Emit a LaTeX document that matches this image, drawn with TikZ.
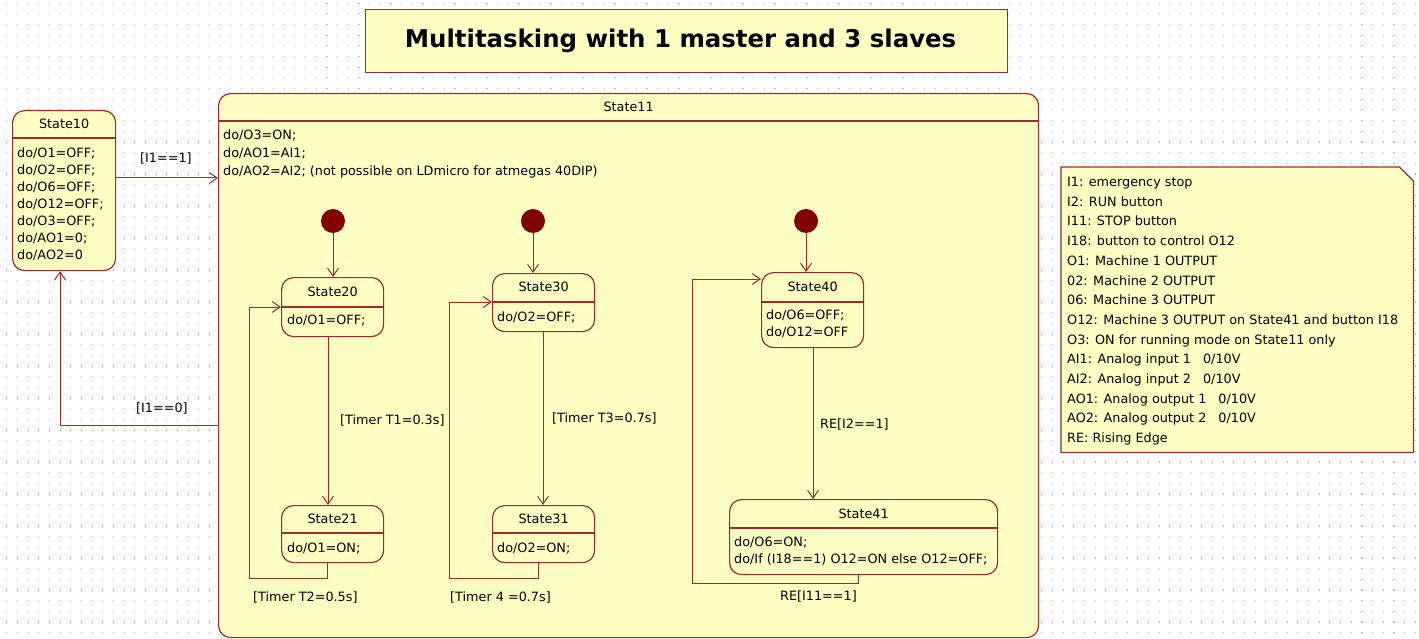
\documentclass[tikz,border=0pt]{standalone}
\usepackage{fontspec}
\setmainfont{DejaVu Sans}
\usetikzlibrary{arrows.meta}
\definecolor{umlline}{RGB}{158,42,42}
\definecolor{umlfill}{RGB}{255,255,196}
\definecolor{umldot}{RGB}{128,0,0}
\begin{document}
\begin{tikzpicture}[x=1pt,y=-1pt,
  font=\fontsize{12.8}{17}\selectfont,
  box/.style={draw=umlline, fill=umlfill, line width=1.2pt, inner sep=0pt},
  state/.style={box, rounded corners=12pt, anchor=north west},
  divider/.style={draw=umlline, line width=1.2pt},
  trans/.style={draw=umlline, line width=1pt, -{Straight Barb[length=8pt,width=11pt]}},
  startdot/.style={circle, fill=umldot, minimum size=24pt, inner sep=0pt},
  body/.style={anchor=north west, align=left, inner sep=0pt},
  guard/.style={anchor=west, inner sep=0pt}]
  \useasboundingbox (0,0) rectangle (1419,639);
  %grid dots
  \foreach \k in {0,...,59}
    \draw[gray!60, line width=1.2pt, dash pattern=on 1.2pt off 9.47pt]
      (6.2,3.2+\k*10.67) -- (1419,3.2+\k*10.67);
  %title
  \node[box, anchor=north west, minimum width=642pt, minimum height=63pt,
        font=\fontsize{24.4}{28}\selectfont\bfseries] (title) at (365,9)
        {\hspace*{-12pt}Multitasking with 1 master and 3 slaves};
  %State10
  \node[state, minimum width=103pt, minimum height=160pt] (s10) at (12,110) {};
  \draw[divider] (s10.west |- 0,138) -- (s10.east |- 0,138);
  \node (s10t) at (s10.north |- 0,124) {State10};
  \node[body] (s10b) at (17,148) {do/O1=OFF;\\do/O2=OFF;\\do/O6=OFF;\\do/O12=OFF;\\
        do/O3=OFF;\\do/AO1=0;\\do/AO2=0};
  %State11
  \node[state, minimum width=820pt, minimum height=544pt] (s11) at (218,93) {};
  \draw[divider] (s11.west |- 0,121) -- (s11.east |- 0,121);
  \node (s11t) at (s11.north |- 0,107) {State11};
  \node[body, font=\fontsize{12.8}{18}\selectfont] (s11b) at (223,130)
        {do/O3=ON;\\do/AO1=AI1;\\do/AO2=AI2; (not possible on LDmicro for atmegas 40DIP)};
  %master transitions
  \draw[trans] (s10.east |- 0,178) -- (s11.west |- 0,178);
  \node[guard] (g10) at (140,158) {[I1==1]};
  \draw[trans] (s11.west |- 0,425) -| ([xshift=-4pt]s10.south);
  \node[guard] (g11) at (136,408) {[I1==0]};
  %slave 1
  \node[startdot] (i20) at (333,221) {};
  \node[state, minimum width=102pt, minimum height=59pt] (s20) at (281,277) {};
  \draw[divider] (s20.west |- 0,307) -- (s20.east |- 0,307);
  \node (s20t) at (s20.north |- 0,292) {State20};
  \node[body] (s20b) at (287,315) {do/O1=OFF;};
  \node[state, minimum width=102pt, minimum height=57pt] (s21) at (281,505) {};
  \draw[divider] (s21.west |- 0,533) -- (s21.east |- 0,533);
  \node (s21t) at (s21.north |- 0,519) {State21};
  \node[body] (s21b) at (287,543) {do/O1=ON;};
  \draw[trans] (i20) -- (i20 |- s20.north);
  \draw[trans] (s20.south -| 328,0) -- (s21.north -| 328,0);
  \node[guard] (g20) at (340,420) {[Timer T1=0.3s]};
  \draw[trans] (s21.south -| 327,0) |- (249,578) |- (s20.west |- 0,307);
  \node[guard] (g21) at (253,597) {[Timer T2=0.5s]};
  %slave 2
  \node[startdot] (i30) at (533,221) {};
  \node[state, minimum width=102pt, minimum height=58pt] (s30) at (492,273) {};
  \draw[divider] (s30.west |- 0,302) -- (s30.east |- 0,302);
  \node (s30t) at (s30.north |- 0,287) {State30};
  \node[body] (s30b) at (497,312) {do/O2=OFF;};
  \node[state, minimum width=102pt, minimum height=57pt] (s31) at (492,505) {};
  \draw[divider] (s31.west |- 0,533) -- (s31.east |- 0,533);
  \node (s31t) at (s31.north |- 0,519) {State31};
  \node[body] (s31b) at (497,543) {do/O2=ON;};
  \draw[trans] (i30) -- (i30 |- s30.north);
  \draw[trans] (s30.south -| 543,0) -- (s31.north -| 543,0);
  \node[guard] (g30) at (552,418) {[Timer T3=0.7s]};
  \draw[trans] (s31.south -| 538,0) |- (449,578) |- (s30.west |- 0,302);
  \node[guard] (g31) at (450,597) {[Timer 4 =0.7s]};
  %slave 3
  \node[startdot] (i40) at (806,221) {};
  \node[state, minimum width=102pt, minimum height=75pt] (s40) at (761,272) {};
  \draw[divider] (s40.west |- 0,302) -- (s40.east |- 0,302);
  \node (s40t) at (s40.north |- 0,287) {State40};
  \node[body] (s40b) at (766,310) {do/O6=OFF;\\do/O12=OFF};
  \node[state, minimum width=268pt, minimum height=75pt] (s41) at (729,499) {};
  \draw[divider] (s41.west |- 0,528) -- (s41.east |- 0,528);
  \node (s41t) at (s41.north |- 0,514) {State41};
  \node[body] (s41b) at (734,537) {do/O6=ON;\\do/If (I18==1) O12=ON else O12=OFF;};
  \draw[trans] (i40) -- (i40 |- s40.north);
  \draw[trans] (s40.south -| 813,0) -- (s41.north -| 813,0);
  \node[guard] (g40) at (820,424) {RE[I2==1]};
  \draw[trans] (s41.south -| 858,0) |- (692,583) |- (s40.west |- 0,279);
  \node[guard] (g41) at (780,596) {RE[I11==1]};
  %note
  \node[anchor=north west, minimum width=352pt, minimum height=285pt, inner sep=0pt]
        (note) at (1061,167) {};
  \draw[box] (note.north west) -- ([xshift=-14pt]note.north east)
        -- ([yshift=-14pt]note.north east) -- (note.south east)
        -- (note.south west) -- cycle;
  \node[body, font=\fontsize{12.8}{19.7}\selectfont] (notetext) at (1067,177)
        {I1: emergency stop\\I2: RUN button\\I11: STOP button\\
         I18: button to control O12\\O1: Machine 1 OUTPUT\\02: Machine 2 OUTPUT\\
         06: Machine 3 OUTPUT\\O12: Machine 3 OUTPUT on State41 and button I18\\
         O3: ON for running mode on State11 only\\
         AI1: Analog input 1\hspace{12pt}0/10V\\AI2: Analog input 2\hspace{12pt}0/10V\\
         AO1: Analog output 1\hspace{12pt}0/10V\\AO2: Analog output 2\hspace{12pt}0/10V\\
         RE: Rising Edge};
\end{tikzpicture}
\end{document}
